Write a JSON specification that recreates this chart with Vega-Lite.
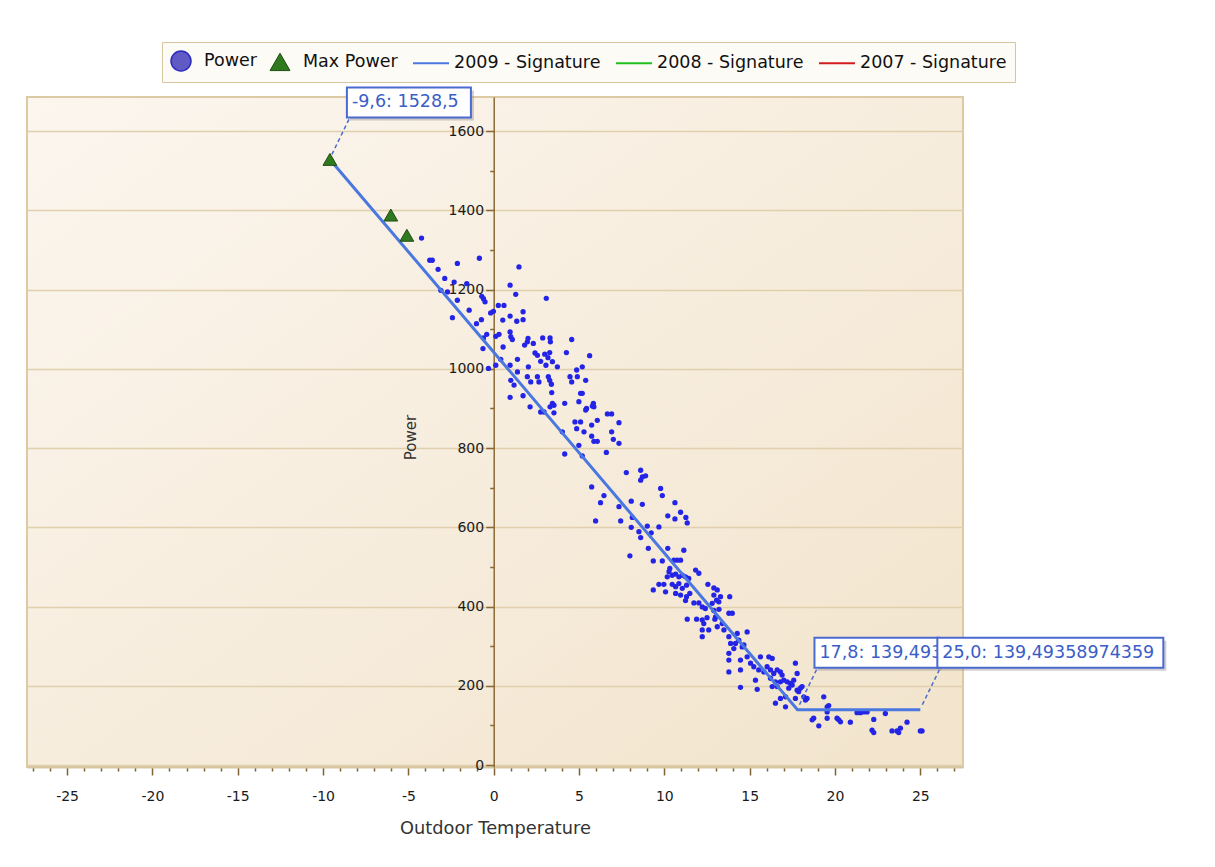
{
  "$schema": "https://vega.github.io/schema/vega-lite/v6.json",
  "width": 936,
  "height": 670,
  "autosize": {"type": "none"},
  "padding": {"left": 27, "top": 97, "right": 252, "bottom": 100},
  "background": "white",
  "config": {
    "font": "DejaVu Sans",
    "view": {
      "stroke": "#dccaa4",
      "strokeWidth": 2,
      "fill": {"gradient": "linear", "x1": 0, "y1": 0, "x2": 1, "y2": 1, "stops": [{"offset": 0, "color": "#fcf6ef"}, {"offset": 1, "color": "#f2e4cc"}]}
    },
    "legend": {
      "padding": 8,
      "fillColor": "#fdfbf6",
      "strokeColor": "#d6c6a0",
      "symbolSize": 400,
      "labelOffset": 12,
      "columnPadding": 11,
      "labelFont": "DejaVu Sans",
      "labelFontSize": 17.5,
      "labelColor": "#111111",
      "symbolOpacity": 1
    }
  },
  "datasets": {
    "pts": [
      {"t":-4.23,"p":1330},{"t":-3.75,"p":1274},{"t":-3.6,"p":1274},{"t":-3.26,"p":1251},{"t":-2.13,"p":1266},{"t":-0.84,"p":1279},{"t":-2.87,"p":1228},{"t":-2.32,"p":1219},{"t":-1.58,"p":1215},{"t":-3.1,"p":1198},{"t":-2.71,"p":1194},{"t":-2.13,"p":1173},{"t":-1.44,"p":1148},{"t":-2.42,"p":1129},{"t":-0.7,"p":1183},{"t":-0.6,"p":1177},{"t":-0.51,"p":1169},{"t":-0.72,"p":1124},{"t":-1.01,"p":1114},{"t":-0.18,"p":1141},{"t":-0.02,"p":1145},{"t":0.27,"p":1160},{"t":0.6,"p":1160},{"t":1.48,"p":1257},{"t":0.96,"p":1211},{"t":1.29,"p":1188},{"t":3.08,"p":1178},{"t":1.72,"p":1144},{"t":0.96,"p":1133},{"t":0.53,"p":1123},{"t":1.35,"p":1120},{"t":1.72,"p":1124},{"t":-0.41,"p":1087},{"t":-0.6,"p":1078},{"t":0.12,"p":1082},{"t":0.31,"p":1087},{"t":-0.63,"p":1051},{"t":0.55,"p":1055},{"t":0.96,"p":1093},{"t":1.0,"p":1081},{"t":1.09,"p":1074},{"t":2.01,"p":1077},{"t":1.97,"p":1068},{"t":1.81,"p":1060},{"t":2.32,"p":1064},{"t":2.87,"p":1078},{"t":3.3,"p":1078},{"t":3.32,"p":1068},{"t":4.57,"p":1074},{"t":5.62,"p":1033},{"t":4.26,"p":1041},{"t":0.41,"p":1024},{"t":1.39,"p":1024},{"t":2.42,"p":1040},{"t":2.56,"p":1034},{"t":2.75,"p":1019},{"t":2.99,"p":1037},{"t":3.28,"p":1041},{"t":3.18,"p":1028},{"t":3.06,"p":1009},{"t":3.44,"p":1018},{"t":3.73,"p":1005},{"t":2.03,"p":1005},{"t":-0.31,"p":1001},{"t":0.12,"p":1009},{"t":0.96,"p":1009},{"t":1.39,"p":992},{"t":1.0,"p":971},{"t":1.19,"p":959},{"t":1.97,"p":980},{"t":2.17,"p":967},{"t":2.56,"p":980},{"t":2.65,"p":967},{"t":3.2,"p":980},{"t":3.28,"p":971},{"t":3.38,"p":961},{"t":4.47,"p":980},{"t":4.57,"p":967},{"t":4.86,"p":997},{"t":5.19,"p":1005},{"t":4.9,"p":980},{"t":5.39,"p":971},{"t":0.96,"p":928},{"t":1.72,"p":932},{"t":3.4,"p":940},{"t":2.13,"p":904},{"t":3.44,"p":913},{"t":3.53,"p":908},{"t":3.3,"p":904},{"t":2.75,"p":891},{"t":2.95,"p":891},{"t":3.53,"p":889},{"t":4.16,"p":913},{"t":4.99,"p":917},{"t":5.09,"p":938},{"t":5.19,"p":938},{"t":5.84,"p":913},{"t":5.44,"p":900},{"t":5.78,"p":906},{"t":4.76,"p":866},{"t":5.09,"p":866},{"t":5.74,"p":858},{"t":6.07,"p":870},
      {"t":5.87,"p":904},{"t":5.39,"p":896},{"t":6.66,"p":886},{"t":6.91,"p":886},{"t":7.34,"p":864},{"t":4.86,"p":849},{"t":5.29,"p":841},{"t":6.91,"p":841},{"t":4.02,"p":841},{"t":5.74,"p":830},{"t":7.01,"p":822},{"t":5.87,"p":817},{"t":6.07,"p":817},{"t":7.34,"p":812},{"t":4.99,"p":807},{"t":6.6,"p":789},{"t":4.16,"p":785},{"t":5.19,"p":780},{"t":7.77,"p":738},{"t":8.61,"p":744},{"t":8.71,"p":727},{"t":8.9,"p":730},{"t":8.61,"p":719},{"t":5.74,"p":702},{"t":9.78,"p":698},{"t":9.88,"p":680},{"t":6.46,"p":680},{"t":6.26,"p":662},{"t":10.62,"p":662},{"t":8.71,"p":658},{"t":8.06,"p":666},{"t":7.34,"p":652},{"t":10.2,"p":629},{"t":10.62,"p":621},{"t":10.95,"p":638},{"t":11.26,"p":625},{"t":11.34,"p":611},{"t":5.97,"p":616},{"t":7.44,"p":616},{"t":8.06,"p":600},{"t":9.0,"p":603},{"t":9.68,"p":601},
      {"t":8.12,"p":625},{"t":8.51,"p":589},{"t":8.61,"p":574},{"t":9.23,"p":586},{"t":9.06,"p":547},{"t":10.2,"p":547},{"t":11.14,"p":542},{"t":7.98,"p":528},{"t":9.35,"p":515},{"t":9.88,"p":515},{"t":10.56,"p":517},{"t":10.75,"p":517},{"t":10.95,"p":517},{"t":10.32,"p":496},{"t":10.27,"p":488},{"t":10.46,"p":479},{"t":10.66,"p":482},{"t":10.85,"p":475},{"t":11.05,"p":479},{"t":11.24,"p":475},{"t":11.43,"p":471},{"t":11.83,"p":492},{"t":12.02,"p":484},{"t":10.17,"p":475},{"t":9.68,"p":456},{"t":9.97,"p":456},{"t":9.35,"p":442},{"t":10.07,"p":437},{"t":10.46,"p":456},{"t":10.66,"p":450},{"t":10.85,"p":458},{"t":11.05,"p":446},{"t":11.3,"p":454},{"t":10.66,"p":433},{"t":10.95,"p":429},{"t":11.3,"p":425},{"t":11.49,"p":433},{"t":11.24,"p":415},{"t":12.55,"p":456},{"t":12.9,"p":447},{"t":13.1,"p":442},{"t":12.9,"p":429},{"t":13.29,"p":425},{"t":13.06,"p":416},{"t":13.83,"p":425},{"t":12.8,"p":408},{"t":13.19,"p":412},{"t":11.73,"p":409},{"t":12.02,"p":409},{"t":12.22,"p":399},{"t":11.34,"p":368},{"t":11.89,"p":368},{"t":12.22,"p":366},{"t":12.31,"p":357},{"t":12.96,"p":368},{"t":13.78,"p":383},{"t":13.98,"p":383},{"t":12.22,"p":341},{"t":12.6,"p":341},{"t":13.1,"p":349},{"t":13.39,"p":357},{"t":13.49,"p":341},{"t":14.85,"p":336},{"t":12.22,"p":324},{"t":13.78,"p":324},{"t":14.27,"p":332},
      {"t":12.4,"p":395},{"t":12.9,"p":390},{"t":13.2,"p":393},{"t":12.5,"p":372},{"t":13.0,"p":374},
      {"t":14.36,"p":315},{"t":14.17,"p":307},{"t":13.88,"p":307},{"t":14.07,"p":294},{"t":14.56,"p":298},{"t":14.66,"p":303},{"t":13.78,"p":282},{"t":13.78,"p":265},{"t":14.46,"p":265},{"t":14.85,"p":273},{"t":15.05,"p":257},{"t":13.78,"p":235},{"t":14.46,"p":240},{"t":14.46,"p":196},{"t":15.34,"p":214},{"t":15.44,"p":191},{"t":15.24,"p":248},{"t":15.53,"p":240},{"t":15.63,"p":273},{"t":15.83,"p":235},{"t":16.12,"p":273},{"t":16.32,"p":269},{"t":16.02,"p":248},{"t":16.22,"p":240},{"t":16.41,"p":231},{"t":16.61,"p":240},{"t":16.8,"p":235},{"t":16.9,"p":227},{"t":16.22,"p":219},{"t":16.51,"p":210},{"t":16.32,"p":198},{"t":16.8,"p":210},{"t":17.0,"p":214},{"t":17.2,"p":210},{"t":17.39,"p":206},{"t":17.58,"p":214},{"t":17.68,"p":257},{"t":17.78,"p":231},{"t":17.97,"p":194},{"t":17.1,"p":172},{"t":17.78,"p":189},{"t":16.8,"p":168},{"t":17.1,"p":147},{"t":16.51,"p":156},{"t":18.17,"p":172},{"t":18.27,"p":164},{"t":18.36,"p":168},{"t":17.49,"p":202},{"t":17.29,"p":194},{"t":16.61,"p":198},{"t":19.34,"p":172},{"t":19.54,"p":147},{"t":18.75,"p":118},{"t":18.07,"p":198},{"t":17.87,"p":185},{"t":17.68,"p":168},
      {"t":19.63,"p":150},{"t":19.54,"p":134},{"t":18.66,"p":114},{"t":19.05,"p":99},{"t":19.54,"p":118},{"t":20.12,"p":118},{"t":20.32,"p":109},{"t":20.22,"p":114},{"t":20.9,"p":108},{"t":21.29,"p":132},{"t":21.49,"p":132},{"t":21.68,"p":134},{"t":21.88,"p":134},{"t":22.27,"p":115},{"t":22.95,"p":130},{"t":22.17,"p":88},{"t":22.27,"p":82},{"t":23.34,"p":86},{"t":23.63,"p":86},{"t":23.83,"p":93},{"t":23.73,"p":82},{"t":24.22,"p":108},{"t":25.0,"p":86},{"t":25.1,"p":86}
    ],
    "maxp": [
      {"t":-9.6,"p":1528.5},
      {"t":-6.03,"p":1388},
      {"t":-5.09,"p":1337}
    ],
    "sig": [
      {"t":-9.6,"p":1528.5},
      {"t":17.8,"p":139.49},
      {"t":25.0,"p":139.49}
    ],
    "series": [
      {"series":"Power"},
      {"series":"Max Power"},
      {"series":"2009 - Signature"},
      {"series":"2008 - Signature"},
      {"series":"2007 - Signature"}
    ],
    "ann": [
      {"id":"A","t":-9.6,"p":1528.5,"label":"-9,6: 1528,5"},
      {"id":"B","t":17.8,"p":139.49,"label":"17,8: 139,49358974359"},
      {"id":"C","t":25.0,"p":139.49,"label":"25,0: 139,49358974359"}
    ]
  },
  "encoding": {
    "x": {
      "field": "t", "type": "quantitative",
      "scale": {"domain": [-27.35, 27.5], "nice": false, "zero": false},
      "axis": {
        "title": "Outdoor Temperature",
        "values": [-27,-26,-25,-24,-23,-22,-21,-20,-19,-18,-17,-16,-15,-14,-13,-12,-11,-10,-9,-8,-7,-6,-5,-4,-3,-2,-1,0,1,2,3,4,5,6,7,8,9,10,11,12,13,14,15,16,17,18,19,20,21,22,23,24,25,26,27],
        "labelExpr": "datum.value % 5 === 0 ? '' + datum.value : ''",
        "tickSize": {"condition": {"test": "datum.value % 5 === 0", "value": 8}, "value": 4},
        "tickColor": "#7d6033",
        "tickWidth": 1.5,
        "domainColor": "#d7c59f",
        "domainWidth": 2,
        "grid": false,
        "labelFont": "DejaVu Sans",
        "labelFontSize": 14,
        "labelColor": "#1a1a1a",
        "labelPadding": 14,
        "labelFlush": false,
        "labelOverlap": false,
        "titleFont": "DejaVu Sans",
        "titleFontSize": 17.8,
        "titleFontWeight": "normal",
        "titleColor": "#333333",
        "titleY": 61,
        "titleBaseline": "middle"
      }
    },
    "y": {
      "field": "p", "type": "quantitative",
      "scale": {"domain": [-5, 1686], "nice": false, "zero": false},
      "axis": {
        "title": "Power",
        "values": [0,100,200,300,400,500,600,700,800,900,1000,1100,1200,1300,1400,1500,1600],
        "labelExpr": "datum.value % 200 === 0 ? '' + datum.value : ''",
        "tickSize": {"condition": {"test": "datum.value % 200 === 0", "value": 8}, "value": 4},
        "offset": -466.7,
        "domainColor": "#8a6a35",
        "domainWidth": 1.5,
        "tickColor": "#8a6a35",
        "tickWidth": 1.5,
        "grid": true,
        "gridColor": "#e0d0ad",
        "gridWidth": 1.5,
        "gridOpacity": {"condition": {"test": "datum.value % 200 === 0", "value": 1}, "value": 0},
        "labelFont": "DejaVu Sans",
        "labelFontSize": 14,
        "labelColor": "#1a1a1a",
        "labelPadding": 2,
        "labelOverlap": false,
        "labelFlush": false,
        "titleFont": "DejaVu Sans",
        "titleFontSize": 15,
        "titleFontWeight": "normal",
        "titleColor": "#333333",
        "titleX": -83,
        "titleY": 340,
        "titleAngle": 270,
        "titleAlign": "center",
        "titleBaseline": "middle"
      }
    }
  },
  "layer": [
    {
      "data": {"name": "pts"},
      "mark": {"type": "point", "filled": true, "shape": "circle", "size": 28, "color": "#2424e6", "opacity": 1}
    },
    {
      "data": {"name": "sig"},
      "mark": {"type": "line", "color": "#4a78e0", "strokeWidth": 3, "opacity": 1}
    },
    {
      "data": {"name": "maxp"},
      "mark": {"type": "point", "filled": true, "shape": "triangle-up", "size": 190, "fill": "#2f7a1f", "stroke": "#1f4d12", "strokeWidth": 1, "opacity": 1}
    },
    {
      "data": {"name": "series"},
      "mark": {"type": "point", "filled": true, "opacity": 0},
      "encoding": {
        "x": {"value": 0},
        "y": {"value": 0},
        "fill": {
          "field": "series", "type": "nominal",
          "scale": {"domain": ["Power", "Max Power", "2009 - Signature", "2008 - Signature", "2007 - Signature"], "range": ["#6159c4", "#2f7a1f", "#4a78e0", "#1fbf1f", "#d41c1c"]},
          "legend": {"title": null, "orient": "none", "direction": "horizontal", "columns": 5, "legendX": 135, "legendY": -55}
        },
        "stroke": {
          "field": "series", "type": "nominal",
          "scale": {"domain": ["Power", "Max Power", "2009 - Signature", "2008 - Signature", "2007 - Signature"], "range": ["#2b2bc0", "#1f4d12", "#4a78e0", "#1fbf1f", "#d41c1c"]},
          "legend": {"title": null, "orient": "none", "direction": "horizontal", "columns": 5, "legendX": 135, "legendY": -55}
        },
        "shape": {
          "field": "series", "type": "nominal",
          "scale": {"domain": ["Power", "Max Power", "2009 - Signature", "2008 - Signature", "2007 - Signature"], "range": ["circle", "triangle-up", "M -1.8 0 L 1.8 0", "M -1.8 0 L 1.8 0", "M -1.8 0 L 1.8 0"]},
          "legend": {"title": null, "orient": "none", "direction": "horizontal", "columns": 5, "legendX": 135, "legendY": -55}
        },
        "strokeWidth": {
          "field": "series", "type": "nominal",
          "scale": {"type": "ordinal", "domain": ["Power", "Max Power", "2009 - Signature", "2008 - Signature", "2007 - Signature"], "range": [1.5, 1, 2, 2, 2]},
          "legend": {"title": null, "orient": "none", "direction": "horizontal", "columns": 5, "legendX": 135, "legendY": -55}
        }
      }
    },
    {
      "data": {"name": "ann"},
      "mark": {"type": "point", "filled": false, "shape": "M 2 -5 L 20 -42", "size": 4, "stroke": "#4a6ad0", "strokeWidth": 1.5, "strokeDash": [4, 3], "opacity": 1}
    },
    {
      "data": {"name": "ann"},
      "transform": [{"filter": "datum.id !== 'C'"}],
      "mark": {"type": "point", "filled": true, "shape": "M 20 -69 L 144 -69 L 144 -39 L 20 -39 Z", "size": 4, "color": "#8a8a8a", "strokeWidth": 0, "opacity": 0.4}
    },
    {
      "data": {"name": "ann"},
      "transform": [{"filter": "datum.id === 'C'"}],
      "mark": {"type": "point", "filled": true, "shape": "M 20 -69 L 246 -69 L 246 -39 L 20 -39 Z", "size": 4, "color": "#8a8a8a", "strokeWidth": 0, "opacity": 0.4}
    },
    {
      "data": {"name": "ann"},
      "transform": [{"filter": "datum.id === 'A'"}],
      "mark": {"type": "point", "filled": true, "shape": "M 17 -72 L 141 -72 L 141 -42 L 17 -42 Z", "size": 4, "fill": "#ffffff", "stroke": "#4a6ad0", "strokeWidth": 2, "opacity": 1}
    },
    {
      "data": {"name": "ann"},
      "transform": [{"filter": "datum.id === 'A'"}],
      "mark": {"type": "text", "align": "left", "baseline": "middle", "dx": 22, "dy": -57, "font": "DejaVu Sans", "fontSize": 17.5, "color": "#3a5dc8"},
      "encoding": {"text": {"field": "label"}}
    },
    {
      "data": {"name": "ann"},
      "transform": [{"filter": "datum.id === 'B'"}],
      "mark": {"type": "point", "filled": true, "shape": "M 17 -72 L 141 -72 L 141 -42 L 17 -42 Z", "size": 4, "fill": "#ffffff", "stroke": "#4a6ad0", "strokeWidth": 2, "opacity": 1}
    },
    {
      "data": {"name": "ann"},
      "transform": [{"filter": "datum.id === 'B'"}],
      "mark": {"type": "text", "align": "left", "baseline": "middle", "dx": 22, "dy": -57, "font": "DejaVu Sans", "fontSize": 17.5, "color": "#3a5dc8"},
      "encoding": {"text": {"field": "label"}}
    },
    {
      "data": {"name": "ann"},
      "transform": [{"filter": "datum.id === 'C'"}],
      "mark": {"type": "point", "filled": true, "shape": "M 17 -72 L 243 -72 L 243 -42 L 17 -42 Z", "size": 4, "fill": "#ffffff", "stroke": "#4a6ad0", "strokeWidth": 2, "opacity": 1}
    },
    {
      "data": {"name": "ann"},
      "transform": [{"filter": "datum.id === 'C'"}],
      "mark": {"type": "text", "align": "left", "baseline": "middle", "dx": 22, "dy": -57, "font": "DejaVu Sans", "fontSize": 17.5, "color": "#3a5dc8"},
      "encoding": {"text": {"field": "label"}}
    }
  ]
}
